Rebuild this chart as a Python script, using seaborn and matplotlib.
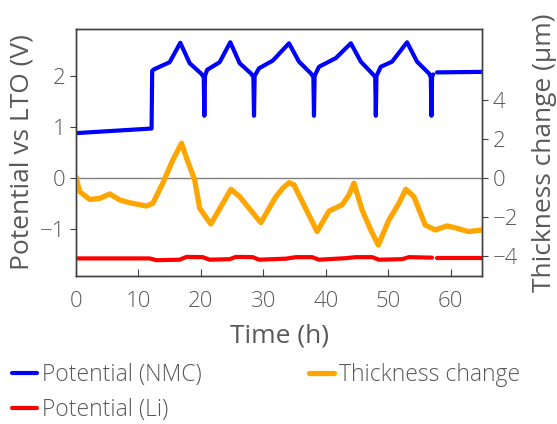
import matplotlib
matplotlib.use("Agg")
import matplotlib.pyplot as plt
import seaborn as sns

# potential of NMC vs LTO (V), split where the logger drops out near 57 h
nmc_time_a = [0.0, 12.1, 12.2, 12.5, 15.0, 16.7, 18.2, 20.0, 20.45, 20.55, 20.65, 21.0,
              23.0, 24.7, 26.2, 28.0, 28.4, 28.5, 28.6, 29.3, 31.5, 34.1, 35.7, 37.6,
              38.0, 38.1, 38.2, 38.9, 41.6, 44.0, 45.6, 47.4, 47.9, 48.0, 48.1, 48.8,
              50.6, 53.0, 54.6, 56.5, 56.8, 56.9, 57.0, 57.2]
nmc_volt_a = [0.88, 0.97, 2.10, 2.13, 2.27, 2.65, 2.25, 2.05, 1.98, 1.22, 2.00, 2.12,
              2.27, 2.66, 2.25, 2.05, 1.98, 1.22, 2.00, 2.15, 2.30, 2.64, 2.28, 2.05,
              1.98, 1.22, 2.00, 2.18, 2.35, 2.64, 2.28, 2.05, 1.98, 1.22, 2.00, 2.18,
              2.28, 2.66, 2.28, 2.05, 1.98, 1.22, 2.00, 2.03]
nmc_time_b = [57.8, 65.0]
nmc_volt_b = [2.07, 2.08]

# potential of Li vs LTO (V)
li_time_a = [0.0, 11.8, 12.9, 16.6, 17.7, 20.3, 21.4, 24.6, 25.6, 28.3, 29.3, 33.6,
             35.2, 37.8, 38.9, 43.2, 44.8, 47.4, 48.5, 52.2, 53.3, 57.0]
li_volt_a = [-1.575, -1.575, -1.61, -1.60, -1.545, -1.55, -1.60, -1.59, -1.545, -1.55,
             -1.60, -1.58, -1.55, -1.55, -1.60, -1.57, -1.55, -1.55, -1.60, -1.59,
             -1.55, -1.56]
li_time_b = [57.8, 65.0]
li_volt_b = [-1.575, -1.575]

# thickness change (um)
thick_time = [0.0, 0.6, 2.2, 3.8, 5.4, 7.0, 8.6, 11.3, 12.3, 13.9, 15.5, 16.9, 17.9,
              19.0, 19.8, 21.1, 21.6, 24.8, 26.2, 29.6, 32.0, 33.1, 34.1, 34.9, 38.6,
              40.5, 42.6, 43.7, 44.5, 45.8, 47.2, 48.4, 50.1, 51.7, 52.8, 54.1, 55.9,
              57.5, 59.4, 61.0, 62.8, 65.0]
thick_um = [0.05, -0.7, -1.1, -1.05, -0.82, -1.13, -1.27, -1.44, -1.3, -0.27, 0.92,
            1.78, 0.84, -0.1, -1.55, -2.15, -2.36, -0.58, -0.96, -2.29, -0.96, -0.53,
            -0.24, -0.36, -2.75, -1.7, -1.38, -0.87, -0.27, -1.64, -2.67, -3.44, -2.15,
            -1.3, -0.58, -0.96, -2.41, -2.67, -2.46, -2.58, -2.75, -2.67]

sns.set_style("ticks")
plt.rcParams['font.family'] = ['Open Sans', 'DejaVu Sans']
plt.rcParams['font.weight'] = 'light'
txt = '#595959'
edge = '#404040'

fig = plt.figure(figsize=(5.57, 4.24), dpi=100)
ax = fig.add_axes([0.1364, 0.349, 0.729, 0.5826])
ax2 = ax.twinx()

ax.axhline(0, color='#808080', lw=1, zorder=1)
sns.lineplot(x=nmc_time_a, y=nmc_volt_a, ax=ax, color='#0000ff', lw=3, sort=False,
             estimator=None, label='Potential (NMC)', legend=False)
sns.lineplot(x=nmc_time_b, y=nmc_volt_b, ax=ax, color='#0000ff', lw=3, sort=False,
             estimator=None, legend=False)
sns.lineplot(x=li_time_a, y=li_volt_a, ax=ax, color='#ff0000', lw=3, sort=False,
             estimator=None, label='Potential (Li)', legend=False)
sns.lineplot(x=li_time_b, y=li_volt_b, ax=ax, color='#ff0000', lw=3, sort=False,
             estimator=None, legend=False)
sns.lineplot(x=thick_time, y=thick_um, ax=ax2, color='#ffa500', lw=3.8, sort=False,
             estimator=None, label='Thickness change', legend=False)

ax.set_xlim(0, 65)
ax.set_ylim(-1.92, 2.92)
ax2.set_ylim(-5.03, 7.64)
ax.set_xticks([0, 10, 20, 30, 40, 50, 60])
ax.set_yticks([-1, 0, 1, 2])
ax.set_yticklabels(['\u22121', '0', '1', '2'])
ax2.set_yticks([-4, -2, 0, 2, 4])
ax2.set_yticklabels(['\u22124', '\u22122', '0', '2', '4'])

for a in (ax, ax2):
    for s in a.spines.values():
        s.set_visible(True)
        s.set_color(edge)
        s.set_linewidth(1)
ax.tick_params(axis='y', direction='out', length=4, colors=edge, labelcolor=txt,
               labelsize=16)
ax.tick_params(axis='x', direction='in', length=5, colors=edge, labelcolor=txt,
               labelsize=16, pad=11)
ax2.tick_params(axis='y', direction='out', length=4, colors=edge, labelcolor=txt,
                labelsize=16)

ax.set_xlabel('Time (h)', fontsize=19, color=txt, labelpad=8)
ax.set_ylabel('Potential vs LTO (V)', fontsize=19, color=txt, labelpad=4)
ax2.set_ylabel('Thickness change (\u00b5m)', fontsize=19, color=txt, rotation=90,
               labelpad=10)

h1, l1 = ax.get_legend_handles_labels()
h2, l2 = ax2.get_legend_handles_labels()
handles = h1 + h2
labels = l1 + l2
leg = fig.legend(handles, labels, ncol=2, loc='upper left', bbox_to_anchor=(0.005, 0.166),
                 frameon=False, fontsize=16.5, handlelength=1.1, handletextpad=0.2,
                 columnspacing=4.7, borderaxespad=0, labelspacing=0.5)
for t in leg.get_texts():
    t.set_color(txt)

fig.savefig('out.png', dpi=100)
